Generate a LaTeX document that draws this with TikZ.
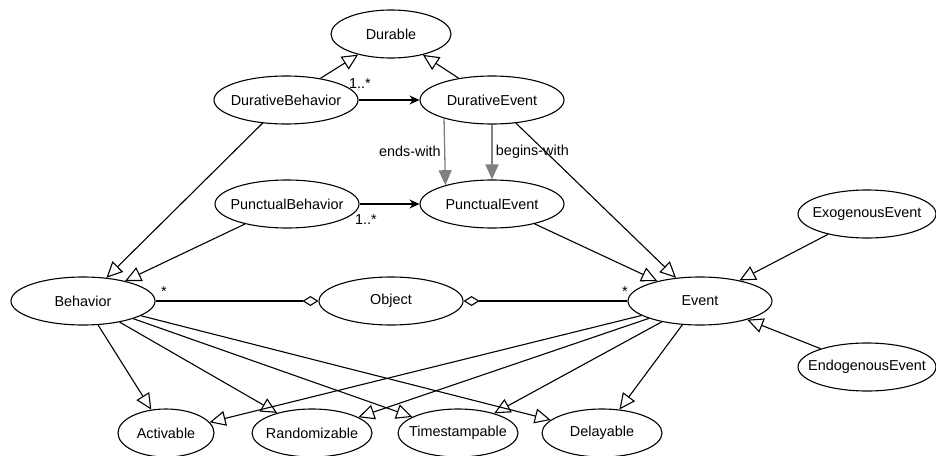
\documentclass[tikz,border=0pt]{standalone}
\usepackage{fontspec}
\setmainfont{Liberation Sans}
\usetikzlibrary{shapes.geometric, arrows.meta}
\definecolor{seqgray}{HTML}{808080}
\tikzset{
    myclass/.style = {
        ellipse,
        draw=black,
        fill=white,
        line width=1.1pt,
        minimum width=144pt,
        minimum height=48pt,
        inner xsep=-20pt,
        inner ysep=0pt,
        font=\fontsize{14.4pt}{17pt}\selectfont
    },
    mytrait/.style = {
        myclass,
        minimum width=120pt
    },
    mylabel/.style = {
        inner sep=0pt,
        font=\fontsize{14.4pt}{17pt}\selectfont
    },
    mygen/.style = {
        line width=1.1pt,
        -{Triangle[open, length=16pt, width=15pt]}
    },
    myassoc/.style = {
        line width=1.1pt,
        -{Stealth[length=10pt, width=9pt]}
    },
    myagg/.style = {
        line width=1.1pt,
        -{Diamond[open, length=16pt, width=10pt]}
    },
    myseq/.style = {
        line width=1.3pt,
        draw=seqgray,
        -{Triangle[length=15pt, width=13pt, fill=seqgray]}
    }
}

\begin{document}
\begin{tikzpicture}[x=1pt, y=-1pt]
\useasboundingbox (0,0) rectangle (936,455);

% Nos
\node (durable) [mytrait] at (391,34) {Durable};
\node (durbeh) [myclass] at (286,100) {DurativeBehavior};
\node (durevt) [myclass] at (492,100) {DurativeEvent};
\node (punbeh) [myclass] at (287,204) {PunctualBehavior};
\node (punevt) [myclass] at (492,204) {PunctualEvent};
\node (behavior) [myclass] at (83,301) {Behavior};
\node (object) [myclass] at (391,301) {Object};
\node (event) [myclass] at (700,301) {Event};
\node (exogen) [myclass, minimum width=138pt] at (867,214) {ExogenousEvent};
\node (endogen) [myclass, minimum width=138pt] at (867,367) {EndogenousEvent};
\node (activ) [mytrait, minimum width=96pt] at (166,433) {Activable};
\node (random) [mytrait] at (312,433) {Randomizable};
\node (tstamp) [mytrait] at (458,433) {Timestampable};
\node (delay) [mytrait] at (602,433) {Delayable};

% Generalizacoes
\draw [mygen] (durbeh) -- (durable);
\draw [mygen] (durevt) -- (durable);
\draw [mygen] (durbeh) -- (behavior);
\draw [mygen] (punbeh) -- (behavior);
\draw [mygen] (durevt) -- (event);
\draw [mygen] (punevt) -- (event);
\draw [mygen] (exogen) -- (event);
\draw [mygen] (endogen) -- (event);
\draw [mygen] (behavior) -- (activ);
\draw [mygen] (behavior) -- (random);
\draw [mygen] (behavior) -- (tstamp);
\draw [mygen] (behavior) -- (delay);
\draw [mygen] (event) -- (activ);
\draw [mygen] (event) -- (random);
\draw [mygen] (event) -- (tstamp);
\draw [mygen] (event) -- (delay);

% Associacoes
\draw [myassoc] (durbeh) -- (durevt)
    node[mylabel, pos=0, anchor=base west, xshift=-10pt, yshift=12pt] (durmult) {1..*};
\draw [myassoc] (punbeh) -- (punevt)
    node[mylabel, pos=0, anchor=base west, xshift=-5pt, yshift=-20pt] (punmult) {1..*};

% Agregacoes
\draw [myagg] (behavior) -- (object)
    node[mylabel, pos=0, anchor=base west, xshift=5pt, yshift=4.5pt] (behmult) {*};
\draw [myagg] (event) -- (object)
    node[mylabel, pos=0, anchor=base west, xshift=-6pt, yshift=4.5pt] (evtmult) {*};

% Inicio e fim
\draw [myseq] (durevt.201.2) -- (punevt.158.8)
    node[midway, left, font=\fontsize{14.4pt}{17pt}\selectfont] (endslbl) {ends-with};
\draw [myseq] (durevt.south) -- (punevt.north)
    node[midway, right, font=\fontsize{14.4pt}{17pt}\selectfont] (beginslbl) {begins-with};

\end{tikzpicture}
\end{document}
